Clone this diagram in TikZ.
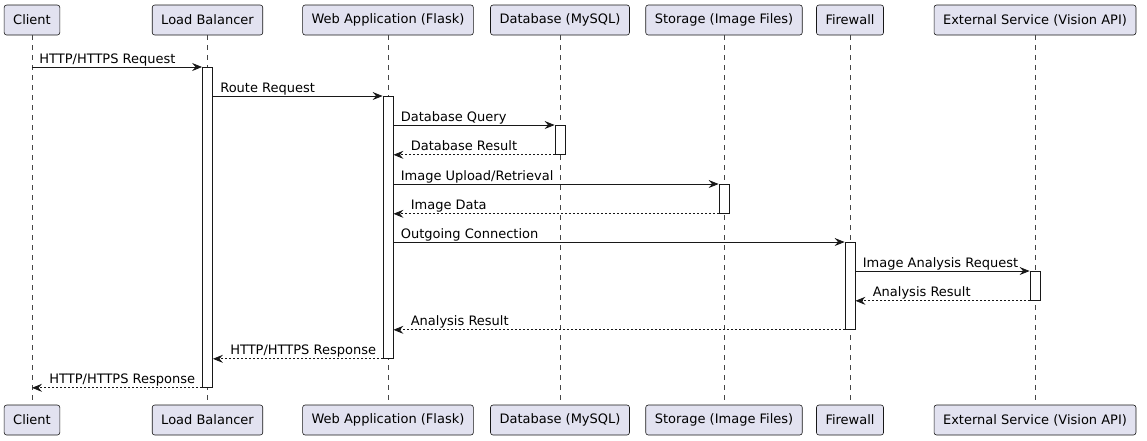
\documentclass[tikz,border=0pt]{standalone}
\usepackage{fontspec}
\setmainfont{DejaVu Sans}
\usetikzlibrary{arrows.meta}

\definecolor{partfill}{HTML}{E2E2F0}
\definecolor{umlline}{HTML}{181818}

\tikzset{
  participant/.style={draw=umlline, fill=partfill, rounded corners=2.5pt, minimum height=30pt,
    inner xsep=9pt, line width=0.6pt, font=\fontsize{13}{15}\selectfont},
  lifeline/.style={umlline!80, line width=0.5pt, dash pattern=on 5pt off 5pt},
  act/.style={draw=umlline, fill=white, line width=0.8pt, minimum width=10pt, inner sep=0pt, anchor=north},
  msg/.style={umlline, line width=0.8pt, -{Stealth[length=10pt,width=8pt,inset=3.5pt]}},
  reply/.style={msg, dash pattern=on 2pt off 2pt},
  lbl/.style={anchor=base west, font=\fontsize{13}{15}\selectfont, inner sep=0pt, text=black},
}

\begin{document}
\begin{tikzpicture}[x=1pt, y=-1pt] % one unit = one pixel, y runs downwards
    \useasboundingbox (0,0) rectangle (1147,440);

    % Participants, top and bottom, with their lifelines
    \foreach \id/\x/\txt in {client/32/Client, lb/207.5/Load Balancer, web/388/Web Application (Flask),
        db/560/Database (MySQL), st/724/Storage (Image Files), fw/850/Firewall,
        ext/1035/External Service (Vision API)} {
        \node[participant] (\id-top) at (\x,20) {\txt};
        \node[participant] (\id-bot) at (\x,420) {\txt};
        \draw[lifeline] (\id-top.south) -- (\id-bot.north);
    }

    % Activation bars
    \node[act, minimum height=320pt] (lbact) at (lb-top.south |- 0,67) {};
    \node[act, minimum height=262pt] (webact) at (web-top.south |- 0,96) {};
    \node[act, minimum height=29pt] (dbact) at (db-top.south |- 0,125) {};
    \node[act, minimum height=29pt] (stact) at (st-top.south |- 0,184) {};
    \node[act, minimum height=87pt] (fwact) at (fw-top.south |- 0,242) {};
    \node[act, minimum height=29pt] (extact) at (ext-top.south |- 0,271) {};

    % Messages
    \draw[msg] (client-top.south |- lbact.north) -- node[lbl, pos=0, xshift=7pt, yshift=4pt] (m1) {HTTP/HTTPS Request} (lbact.north west);
    \draw[msg] (lbact.east |- webact.north) -- node[lbl, pos=0, xshift=7pt, yshift=4pt] (m2) {Route Request} (webact.north west);
    \draw[msg] (webact.east |- dbact.north) -- node[lbl, pos=0, xshift=7pt, yshift=4pt] (m3) {Database Query} (dbact.north west);
    \draw[reply] (dbact.south west) -- node[lbl, pos=1, xshift=17pt, yshift=4pt] (m4) {Database Result} (webact.east |- dbact.south);
    \draw[msg] (webact.east |- stact.north) -- node[lbl, pos=0, xshift=7pt, yshift=4pt] (m5) {Image Upload/Retrieval} (stact.north west);
    \draw[reply] (stact.south west) -- node[lbl, pos=1, xshift=17pt, yshift=4pt] (m6) {Image Data} (webact.east |- stact.south);
    \draw[msg] (webact.east |- fwact.north) -- node[lbl, pos=0, xshift=7pt, yshift=4pt] (m7) {Outgoing Connection} (fwact.north west);
    \draw[msg] (fwact.east |- extact.north) -- node[lbl, pos=0, xshift=7pt, yshift=4pt] (m8) {Image Analysis Request} (extact.north west);
    \draw[reply] (extact.south west) -- node[lbl, pos=1, xshift=17pt, yshift=4pt] (m9) {Analysis Result} (fwact.east |- extact.south);
    \draw[reply] (fwact.south west) -- node[lbl, pos=1, xshift=17pt, yshift=4pt] (m10) {Analysis Result} (webact.east |- fwact.south);
    \draw[reply] (webact.south west) -- node[lbl, pos=1, xshift=17pt, yshift=4pt] (m11) {HTTP/HTTPS Response} (lbact.east |- webact.south);
    \draw[reply] (lbact.south west) -- node[lbl, pos=1, xshift=17pt, yshift=4pt] (m12) {HTTP/HTTPS Response} (client-top.south |- lbact.south);
\end{tikzpicture}
\end{document}
